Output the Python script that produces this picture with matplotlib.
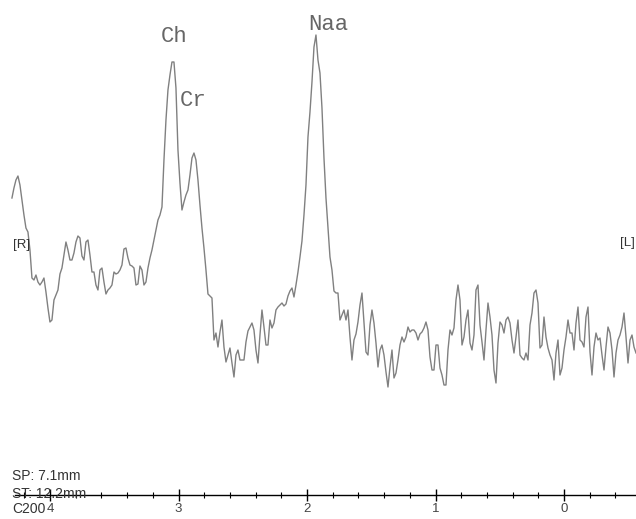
import numpy as np
import matplotlib
matplotlib.use("Agg")
import matplotlib.pyplot as plt
from matplotlib.ticker import MultipleLocator, FixedLocator

# chemical shift axis (ppm), sampled evenly from left edge to right edge
ppm_start, ppm_end = 4.296, -0.560

# signal intensity (arbitrary units), left to right
intensity = [
    297, 307, 315, 319, 310, 295, 280, 267, 263, 245,
    217, 215, 220, 213, 210, 213, 217, 203, 187, 173,
    175, 195, 200, 205, 221, 227, 240, 253, 245, 235,
    235, 242, 253, 259, 257, 239, 235, 253, 255, 240,
    223, 223, 210, 205, 225, 227, 213, 201, 205, 207,
    210, 223, 221, 222, 225, 230, 246, 247, 237, 230,
    229, 227, 210, 211, 229, 225, 210, 213, 227, 237,
    245, 255, 265, 275, 280, 288, 335, 375, 405, 420,
    433, 433, 407, 345, 312, 285, 293, 300, 305, 320,
    337, 342, 335, 315, 290, 267, 247, 225, 201, 199,
    197, 155, 162, 148, 163, 175, 148, 133, 140, 147,
    132, 118, 140, 145, 135, 135, 135, 153, 164, 168,
    172, 165, 145, 132, 160, 185, 168, 150, 150, 175,
    167, 172, 185, 188, 190, 192, 189, 191, 199, 204,
    207, 198, 210, 223, 238, 254, 280, 310, 358, 383,
    413, 448, 460, 435, 422, 387, 337, 297, 267, 238,
    225, 204, 202, 202, 175, 180, 185, 175, 185, 158,
    135, 155, 161, 173, 190, 202, 173, 143, 140, 170,
    185, 172, 152, 128, 145, 150, 140, 123, 108, 128,
    145, 117, 122, 135, 150, 158, 153, 158, 168, 163,
    165, 165, 162, 155, 161, 163, 167, 173, 165, 138,
    125, 125, 150, 150, 127, 120, 110, 110, 145, 165,
    160, 167, 195, 210, 195, 150, 158, 175, 185, 152,
    145, 160, 205, 210, 170, 153, 135, 165, 192, 178,
    160, 125, 112, 152, 173, 170, 162, 175, 178, 172,
    155, 142, 158, 175, 140, 137, 135, 142, 135, 170,
    182, 202, 205, 192, 147, 150, 178, 158, 147, 140,
    135, 115, 142, 155, 120, 127, 145, 158, 175, 162,
    162, 145, 172, 188, 155, 153, 148, 178, 188, 143,
    120, 148, 162, 155, 157, 140, 125, 148, 168, 162,
    145, 118, 142, 155, 160, 168, 182, 158, 132, 155,
    160, 148, 142,
]

peak_names = ["Ch", "Cr", "Naa"]
peak_label_ppm = [3.035, 2.887, 1.837]
peak_label_int = [458, 395, 471]

major_ticks = [4, 3, 2, 1, 0]
scan_info = ["SP: 7.1mm", "ST: 12.2mm", "C200"]

ppm = np.linspace(ppm_start, ppm_end, len(intensity))

fig = plt.figure(figsize=(6.36, 5.19), dpi=100)
ax = fig.add_axes([0, 0, 1, 1])

ax.plot(ppm, intensity, color="#808080", lw=1.0)

# spectrum is read right-to-left in ppm
ax.set_xlim(4.389, -0.560)
ax.set_ylim(-24, 495)

for s in ["top", "left", "right"]:
    ax.spines[s].set_visible(False)
ax.spines["bottom"].set_position(("data", 0))
ax.spines["bottom"].set_bounds(4.27, -0.56)
ax.spines["bottom"].set_linewidth(1.0)
ax.yaxis.set_visible(False)
ax.xaxis.set_major_locator(FixedLocator(major_ticks))
ax.xaxis.set_minor_locator(MultipleLocator(0.2))
ax.tick_params(axis="x", which="major", direction="inout", length=9, width=1,
               pad=1, labelsize=9.5, labelcolor="#444444")
ax.tick_params(axis="x", which="minor", direction="inout", length=4, width=0.8)
for lab in ax.get_xticklabels():
    lab.set_fontfamily("Liberation Sans")

for name, px, py in zip(peak_names, peak_label_ppm, peak_label_int):
    ax.text(px, py, name, ha="center", va="center", fontsize=16,
            family="Liberation Mono", color="#666666")

side_font = dict(fontsize=9.5, family="Liberation Sans", color="#333333",
                 va="center")
ax.text(4.218, 250, "[R]", ha="center", **side_font)
ax.text(-0.49, 252, "[L]", ha="center", **side_font)

for txt, yy in zip(scan_info, [19, 1, -14]):
    ax.text(4.296, yy, txt, ha="left", fontsize=10, family="Liberation Sans",
            color="#333333", va="center")

fig.savefig("out.png", dpi=100, facecolor="white")
